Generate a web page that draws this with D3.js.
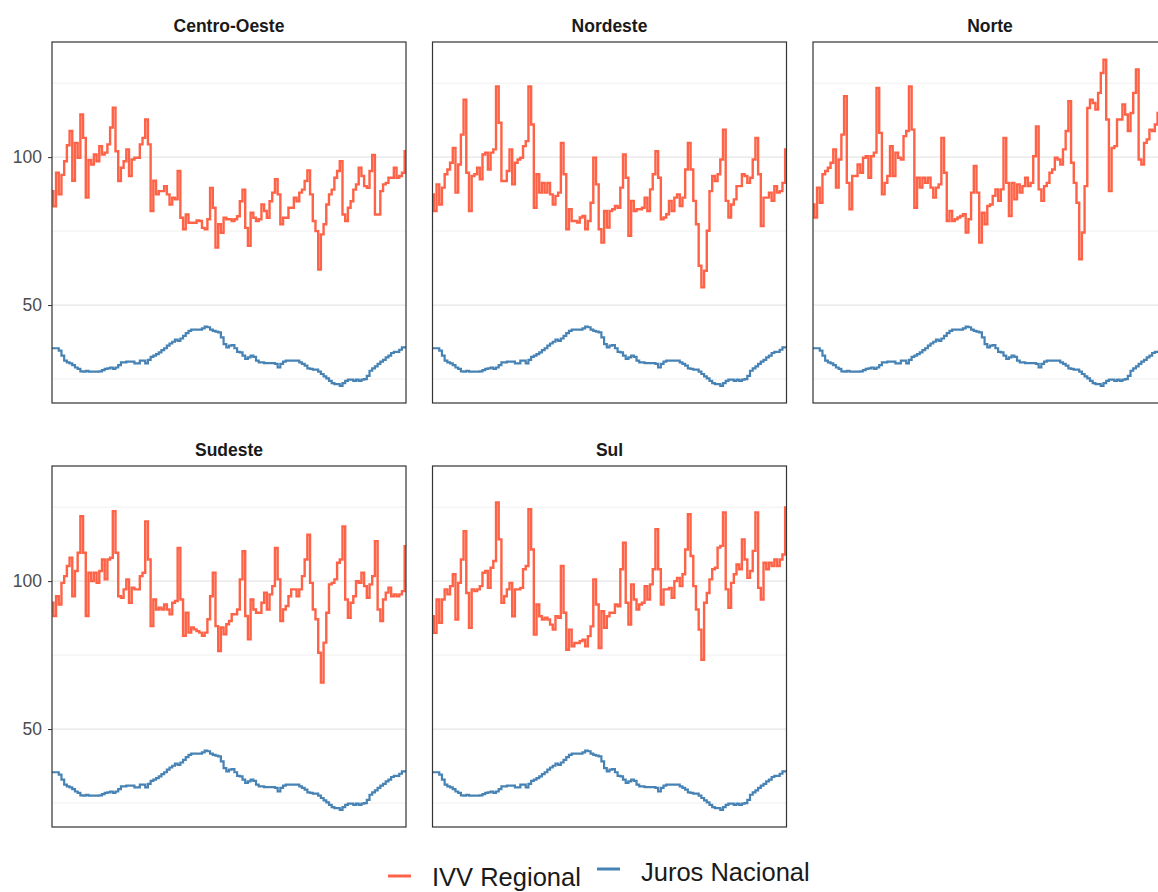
<!DOCTYPE html>
<html>
<head>
<meta charset="utf-8">
<script src="https://cdn.jsdelivr.net/npm/d3@7"></script>
<style>
  body { margin: 0; background: #fff; }
  svg text { font-family: "Liberation Sans", Arial, sans-serif; }
</style>
</head>
<body>
<svg id="chart" width="1158" height="892"></svg>
<script>
// regions, in facet order
var regions = ["Centro-Oeste", "Nordeste", "Norte", "Sudeste", "Sul"];

// IVV Regional, monthly values (132 months)
var ivvCentroOeste = [88.5,83.4,94.7,87.4,94,98.6,104,108.8,92,104.8,
  99.8,114.4,106.5,86.3,99,97.5,100.9,98.6,103.7,100.9,
  101.5,104.3,110,116.7,102,91.9,96.4,98.6,102.6,93.6,
  99.2,99.8,99.8,104.3,106.5,112.7,104.3,81.8,92,87.4,
  88.5,88.5,90.2,87.4,84,86.3,85.7,95.3,79.5,75.6,
  80.6,77.8,77.8,77.8,78.6,78.4,76.1,75.6,79,89.6,
  82.9,69.4,77.3,74.4,79.5,79,79,78.4,79,80,
  85.1,89,76.1,70,81.2,79.5,78.4,79,84,81.8,
  79.5,85.1,88,92.5,87.4,77.3,79.5,79.5,82.9,82.9,
  86.3,85.1,88,89,91.9,95.5,87.4,78.4,75,62,
  73.9,77.3,84,87.4,89,93,95.3,98.6,80.6,78.4,
  82.9,85.1,89,90.8,96.4,93.6,90.2,89.6,95.3,100.7,
  80.6,80.6,88.5,90.8,91.3,93,93,96.4,93,93.6,94.7,102];

var ivvNordeste = [87.4,81.8,90.8,84,89.7,94.2,95.8,98.1,103.1,88,
  97.5,107.6,119.4,94.7,81.8,93.6,94.2,96.4,92.5,100.9,
  101.5,95.8,101.5,102.6,123.9,111.6,91.9,91.9,95.3,102.6,
  90.8,98.1,99.2,99.8,103.7,105.4,123.9,111,82.9,94.2,
  88,91.3,88,91.3,87.4,84,86.9,88,104.8,94.2,
  75.6,82.4,78.4,78.4,77.9,79.6,80.1,75.6,78.4,84.6,
  99.8,90.8,75.6,71.1,81.8,76.2,81.8,82.4,83.5,82.9,
  89.7,100.9,93,73.4,85.2,81.8,82.4,82.4,82.9,86.3,
  81.8,89.1,94.2,102,93,79,79.6,80.7,85.2,81.8,
  86.3,87.4,83.5,86.3,95.8,104.8,95.8,85.2,77.3,63.3,
  56,61.6,75.1,88.5,93.6,91.9,94.2,99.2,109.3,85.2,
  79.6,84,85.7,90.2,90.2,94.2,93.6,91.3,93,99.2,
  106.5,94.2,76.7,86.3,86.3,88,85.2,90.2,88,88.5,91.3,102.6];

var ivvNorte = [84,79.6,89.7,84.6,94.2,95.3,96.4,98.1,102.6,89.7,
  99.2,107.6,120.6,91.3,82.4,93.6,93.6,97.5,94.7,99.8,
  100.3,93,100.3,101.5,123.4,108.2,87.4,91.3,93.6,103.7,
  93.6,101.5,99.8,99.2,107.1,108.8,123.9,109.3,82.9,93,
  89.7,93,91.3,93,89.7,86.3,89.7,90.8,106.5,94.7,
  78.4,81.8,78.4,79,79.6,80.1,80.7,74.5,79,88,
  97,88,71.1,81.2,77.3,83.5,84,86.9,89.1,85.2,
  89.1,106.5,91.3,80.1,91.3,85.7,90.8,88,90.2,93,
  90.2,91.3,100.3,110.4,89.1,85.2,90.2,91.3,94.7,95.8,
  99.8,99.2,97.5,102.6,108.8,118.9,98.1,91.3,84.6,65.5,
  74.5,90.2,116.6,119.4,118.3,116.1,121.7,128.4,132.9,112.7,
  88.5,103.1,103.7,112.7,112.7,117.8,114.4,108.8,114.9,121.7,
  129.6,99.2,97.5,104.8,106,109.3,108.8,111,114.9,112,113.8,115];

var ivvSudeste = [92.7,88.2,94.9,92.1,99.4,101.7,105.1,107.9,94.9,103.4,
  109.6,121.9,109.6,88.2,102.8,100,102.8,99.4,103.4,107.3,
  100.6,107.3,107.9,123.6,109.6,94.9,94.4,97.2,100.6,92.7,
  97.8,97.2,97.2,101.7,102.8,120.2,107.3,84.8,93.8,90.4,
  91,90.4,92.1,90.4,88.8,92.7,93.3,111.2,93.8,81.5,
  89.3,82.6,84.3,83.7,83.1,82.6,81.5,82.6,87.1,94.9,
  102.8,84.8,76.4,84.3,82,85.4,86.5,88.8,88.8,90.4,
  100.6,110.1,88.2,80.3,93.8,90.4,89.3,89.3,92.7,96.1,
  90.4,95.5,98.3,111.2,100.6,86.5,90.4,91.6,94.9,97.2,
  97.2,94.9,97.2,101.7,107.3,115.7,99.4,90.4,87.1,75.8,
  65.7,79.2,89.3,98.9,99.4,100.6,106.2,107.3,118.5,93.8,
  87.6,92.7,94.9,100,99.4,102.8,98.3,94.4,98.9,101.7,
  113.5,90.4,86.5,93.8,96.1,97.8,94.9,95.5,94.9,95.5,96.6,111.8];

var ivvSul = [88.1,82.5,93.8,85.9,93.8,97.2,95.5,98.3,102.3,87,
  99.4,107.3,116.9,96,84.2,97.2,96.6,97.2,98.3,102.8,
  103.4,97.7,104.5,106.8,126.6,114.1,92.7,94.9,97.2,99.4,
  88.1,97.2,97.2,97.7,104,105.1,124.3,110.7,81.9,92.1,
  88.1,87,87.6,87,85.3,83.6,88.1,87.6,105.1,89.3,
  76.8,83.6,78,79.1,79.1,79.7,80.2,78,81.4,84.7,
  100.6,92.1,77.4,89.8,84.2,88.1,89.3,89.3,92.1,91.5,
  104,113,92.7,85.3,98.9,93.8,90.4,92.1,92.7,98.3,
  93.8,98.9,104,117.5,104,92.1,97.2,97.2,97.7,94.4,
  100,101.1,98.3,102.3,110.7,122.6,108.5,98.3,90.4,83.6,
  73.4,92.7,96,100.6,104,104.5,111.3,111.9,123.2,97.2,
  91,99.4,102.3,105.6,104,114.1,107.3,101.1,103.4,110.2,
  123.2,97.7,93.8,106.2,104,106.2,105.1,107.3,105.1,107.3,109,124.9];

// Juros Nacional, same series in every panel
var jurosNacional = [35.4,35.4,35.4,34.6,32.9,31.2,30.6,30.3,29.7,28.9,
  28.4,27.6,27.5,27.8,27.5,27.5,27.5,27.5,27.6,28,
  28.4,28.6,28.9,28.4,28.9,29.7,30.6,30.6,30.9,30.9,
  30.9,30.3,30.3,31.2,31.2,30.3,31.5,32.5,32.9,33.4,
  34,34.8,35.4,36.3,37,37.6,38.3,37.9,38.7,39.6,
  40.5,41.3,41.7,41.7,41.7,41.7,42.1,42.7,42.5,41.7,
  41.3,41,40.8,39.1,36.8,35.7,36.3,36.5,35.4,34.2,
  34,32.9,31.8,32.3,32.9,32.5,31.2,30.6,30.6,30.4,
  30.4,30.4,30.4,30.1,28.9,30.1,30.9,31.2,31.2,31.2,
  31.2,31.2,30.6,30.1,29.5,28.6,28.4,28.2,28.2,27.5,
  26.7,25.9,25.2,24.4,23.6,23.3,23.3,22.7,23.6,24.4,
  24.8,24.8,24.4,24.8,24.4,24.8,25,26.1,27.8,28.6,
  29.3,30.1,30.9,31.5,32.3,32.9,33.8,34.2,34.2,34.9,35.7,35.7];

var yTicks = [50, 100];
var yMinor = [25, 75, 125];
var seriesNames = ["IVV Regional", "Juros Nacional"];

var ivvByRegion = [ivvCentroOeste, ivvNordeste, ivvNorte, ivvSudeste, ivvSul];

var colIVV = "#FF6347";
var colJuros = "#4682B4";

var pw = 354, ph = 361;
var colX = [52, 432.5, 813];
var rowY = [42, 466];

var svg = d3.select("#chart");

var x = d3.scaleLinear().domain([0, jurosNacional.length - 1]).range([0, pw]);
var y = d3.scaleLinear().domain([16.9, 138.9]).range([ph, 0]);

// monthly values drawn as steps, like the original
var line = d3.line()
  .curve(d3.curveStep)
  .x(function (d, i) { return x(i) })
  .y(function (d) { return y(d) });

regions.forEach(function (name, k) {
  var col = k % 3, row = Math.floor(k / 3);
  var g = svg.append("g")
    .attr("transform", "translate(" + colX[col] + "," + rowY[row] + ")");

  // grid
  g.selectAll("line.minor").data(yMinor).enter().append("line")
    .attr("x1", 0).attr("x2", pw)
    .attr("y1", function (d) { return y(d) }).attr("y2", function (d) { return y(d) })
    .attr("stroke", "#f0f0f0").attr("stroke-width", 1);
  g.selectAll("line.major").data(yTicks).enter().append("line")
    .attr("x1", 0).attr("x2", pw)
    .attr("y1", function (d) { return y(d) }).attr("y2", function (d) { return y(d) })
    .attr("stroke", "#e6e6e6").attr("stroke-width", 1.2);

  g.append("path").datum(jurosNacional)
    .attr("d", line).attr("fill", "none")
    .attr("stroke", colJuros).attr("stroke-width", 2.2);
  g.append("path").datum(ivvByRegion[k])
    .attr("d", line).attr("fill", "none")
    .attr("stroke", colIVV).attr("stroke-width", 2.4);

  g.append("rect")
    .attr("x", 0).attr("y", 0).attr("width", pw).attr("height", ph)
    .attr("fill", "none").attr("stroke", "#333").attr("stroke-width", 1.2);

  // strip title
  g.append("text")
    .attr("x", pw / 2).attr("y", -10)
    .attr("text-anchor", "middle")
    .attr("font-size", 17.5).attr("font-weight", "bold")
    .attr("fill", "#1a1a1a")
    .text(name);

  // y axis only on first column
  if (col == 0) {
    var ax = g.append("g").call(d3.axisLeft(y).tickValues(yTicks).tickSize(4).tickPadding(6));
    ax.select(".domain").remove();
    ax.selectAll(".tick line").attr("stroke", "#333");
    ax.selectAll(".tick text")
      .attr("fill", "#4d4d4d").attr("font-size", 17.5)
      .style("font-family", "'Liberation Sans', Arial, sans-serif");
  }
});

// legend
var legend = [
  { label: seriesNames[0], color: colIVV, kx: 388, ky: 876, tx: 432, ty: 886 },
  { label: seriesNames[1], color: colJuros, kx: 597, ky: 869, tx: 641, ty: 881 }
];
legend.forEach(function (d) {
  svg.append("line")
    .attr("x1", d.kx).attr("x2", d.kx + 23)
    .attr("y1", d.ky).attr("y2", d.ky)
    .attr("stroke", d.color).attr("stroke-width", 3);
  svg.append("text")
    .attr("x", d.tx).attr("y", d.ty)
    .attr("font-size", 25.5).attr("fill", "#1a1a1a")
    .text(d.label);
});
</script>
</body>
</html>
